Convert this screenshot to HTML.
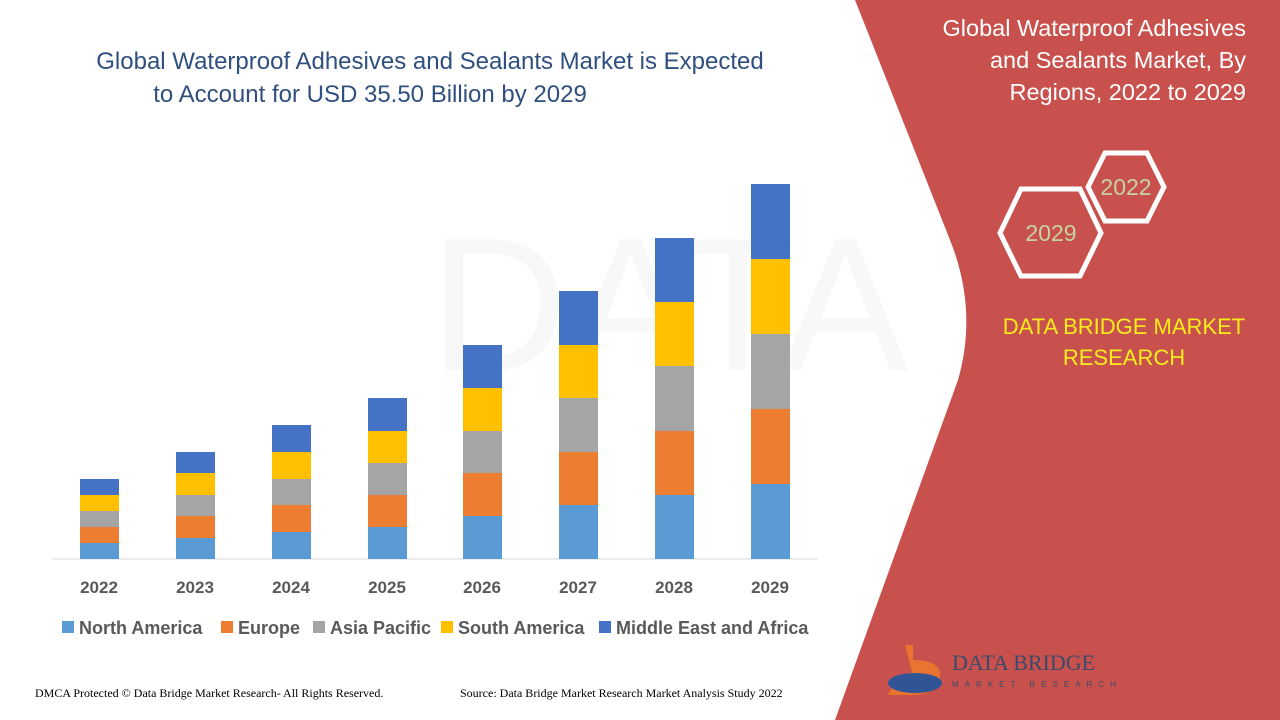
<!DOCTYPE html>
<html><head><meta charset="utf-8"><style>
body{margin:0;width:1280px;height:720px;overflow:hidden;background:#fff;font-family:"Liberation Sans",sans-serif;position:relative}
</style></head><body>
<svg width="1280" height="720" style="position:absolute;left:0;top:0">
<text x="430" y="370" font-size="190" fill="#f8f8f8" font-family="Liberation Sans">DATA BRIDGE</text>
<path d="M855,0 L950,240 Q978,310 958,380 L835,720 L1280,720 L1280,0 Z" fill="#c8514d"/>
<g font-family="Liberation Sans" font-size="23.5" fill="#fff" text-anchor="end">
<text x="1246" y="36">Global Waterproof Adhesives</text>
<text x="1246" y="68">and Sealants Market, By</text>
<text x="1246" y="100">Regions, 2022 to 2029</text>
</g>
<polygon points="1088,187 1105,153 1147,153 1164,187 1147,221 1105,221" fill="none" stroke="#fff" stroke-width="5"/>
<polygon points="1000,233 1021,189 1080,189 1101,233 1080,276 1021,276" fill="none" stroke="#fff" stroke-width="5"/>
<text x="1126" y="195" font-size="23" fill="#c5d3a0" text-anchor="middle">2022</text>
<text x="1051" y="241" font-size="23" fill="#c5d3a0" text-anchor="middle">2029</text>
<g font-size="22" fill="#f8ec1c" text-anchor="middle"><text x="1124" y="334">DATA BRIDGE MARKET</text><text x="1124" y="365">RESEARCH</text></g>
<path d="M905,645 L913,645 L913,660 Q940,660 940,675 Q940,695 910,695 L888,695 Q895,680 912,672" fill="#e8742f"/>
<ellipse cx="915" cy="683" rx="27" ry="10" fill="#2f5597"/>
<text x="952" y="670" font-family="Liberation Serif" font-size="22" fill="#3a4a6a">DATA BRIDGE</text>
<text x="952" y="687" font-size="8" fill="#3a4a6a" letter-spacing="6">MARKET RESEARCH</text>
<g font-size="24" fill="#2f4f7f" text-anchor="middle">
<text x="430" y="69">Global Waterproof Adhesives and Sealants Market is Expected</text>
<text x="370" y="102">to Account for USD 35.50 Billion by 2029</text>
</g>
<line x1="52" y1="559" x2="818" y2="559" stroke="#d9d9d9"/>
<g id="bars"></g>
<g font-size="17" font-weight="bold" fill="#595959" text-anchor="middle">
<text x="99" y="593">2022</text><text x="195" y="593">2023</text><text x="291" y="593">2024</text><text x="387" y="593">2025</text><text x="482" y="593">2026</text><text x="578" y="593">2027</text><text x="674" y="593">2028</text><text x="770" y="593">2029</text>
</g>
<g font-size="18" font-weight="bold" fill="#595959">
<rect x="62" y="621" width="12" height="12" fill="#5b9bd5"/><text x="79" y="634">North America</text>
<rect x="221" y="621" width="12" height="12" fill="#ed7d31"/><text x="238" y="634">Europe</text>
<rect x="313" y="621" width="12" height="12" fill="#a5a5a5"/><text x="330" y="634">Asia Pacific</text>
<rect x="441" y="621" width="12" height="12" fill="#ffc000"/><text x="458" y="634">South America</text>
<rect x="599" y="621" width="12" height="12" fill="#4472c4"/><text x="616" y="634">Middle East and Africa</text>
</g>
<text x="35" y="697" font-family="Liberation Serif" font-size="12" fill="#000">DMCA Protected © Data Bridge Market Research- All Rights Reserved.</text>
<text x="460" y="697" font-family="Liberation Serif" font-size="12" fill="#000">Source: Data Bridge Market Research Market Analysis Study 2022</text>
</svg>
<script>
var xs=[80,176,272,368,463,559,655,751];
var tops=[[543,527,511,495,479],[538,516,495,473,452],[532,505,479,452,425],[527,495,463,431,398],[516,473,431,388,345],[505,452,398,345,291],[495,431,366,302,238],[484,409,334,259,184]];
var cols=["#5b9bd5","#ed7d31","#a5a5a5","#ffc000","#4472c4"];
var g=document.getElementById("bars"),s="";
for(var i=0;i<8;i++){var b=559;for(var j=0;j<5;j++){var t=tops[i][j];s+='<rect x="'+xs[i]+'" y="'+t+'" width="39" height="'+(b-t)+'" fill="'+cols[j]+'"/>';b=t;}}
g.innerHTML=s;
</script>
</body></html>
